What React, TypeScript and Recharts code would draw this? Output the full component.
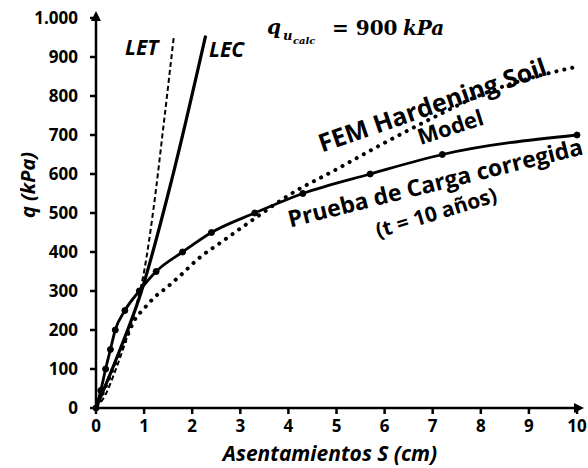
import React from 'react';
import { LineChart, Line, XAxis, YAxis, Customized } from 'recharts';

// Prueba de carga corregida (t = 10 años)
const pruebaS = [0, 0.1, 0.2, 0.3, 0.4, 0.6, 0.9, 1.25, 1.8, 2.4, 3.3, 4.3, 5.7, 7.2, 10];
const pruebaQ = [0, 45, 100, 150, 200, 250, 300, 350, 400, 450, 500, 550, 600, 650, 700];

// FEM Hardening Soil Model
const femS = [0, 0.2, 0.4, 0.6, 0.8, 1.0, 1.2, 1.5, 1.8, 2.1, 2.6, 3.3, 4.0, 5.0, 6.0, 7.0, 8.0, 9.0, 10];
const femQ = [0, 55, 115, 170, 225, 255, 282, 312, 345, 380, 425, 486, 545, 612, 680, 744, 803, 845, 875];

// LET (curva discontinua)
const letS = [0, 0.2, 0.4, 0.6, 0.8, 1.0, 1.2, 1.4, 1.62];
const letQ = [0, 35, 95, 165, 245, 350, 515, 720, 955];

// LEC
const lecS = [0, 0.5, 0.92, 1.57, 2.28];
const lecQ = [0, 150, 290, 583, 955];

const xTicks = [0, 1, 2, 3, 4, 5, 6, 7, 8, 9, 10];
const yTicks = [0, 100, 200, 300, 400, 500, 600, 700, 800, 900, 1000];

const zip = (s: number[], q: number[]) => s.map((v, i) => ({ s: v, q: q[i] }));

const FONT = '"Open Sans", sans-serif';

const fmtY = (v: number) => (v >= 1000 ? v.toLocaleString('de-DE') : String(v));

const Notes = () => (
  <g fontFamily={FONT} fontWeight="bold" fill="#000">
    <defs>
      <marker
        id="axArrow"
        viewBox="0 0 10 10"
        refX="3"
        refY="5"
        markerWidth="4"
        markerHeight="4"
        orient="auto-start-reverse"
      >
        <path d="M0,0 L10,5 L0,10 z" fill="#000" />
      </marker>
    </defs>
    <text x={27} y={185} transform="rotate(-90 27 185)" textAnchor="middle" dominantBaseline="central" fontStyle="italic" fontSize={20}>
      q (kPa)
    </text>
    <text x={330} y={453} textAnchor="middle" dominantBaseline="central" fontStyle="italic" fontSize={21}>
      Asentamientos S (cm)
    </text>
    <text x={125} y={55} fontStyle="italic" fontSize={21}>LET</text>
    <text x={209} y={57} fontStyle="italic" fontSize={21}>LEC</text>
    <g fontFamily='"DejaVu Serif", serif' fontStyle="italic">
      <text x={267} y={34} fontSize={20}>q</text>
      <text x={283} y={40} fontSize={13}>u</text>
      <text x={293} y={44} fontSize={10}>calc</text>
      <text x={332} y={35} fontSize={20} fontStyle="normal">= 900</text>
      <text x={403} y={35} fontSize={20}>kPa</text>
    </g>
    <text x={432} y={104} transform="rotate(-19 432 104)" textAnchor="middle" dominantBaseline="central" fontSize={25}>
      FEM Hardening Soil
    </text>
    <text x={450} y={126} transform="rotate(-18 450 126)" textAnchor="middle" dominantBaseline="central" fontSize={22}>
      Model
    </text>
    <text x={435} y={182} transform="rotate(-14 435 182)" textAnchor="middle" dominantBaseline="central" fontSize={23}>
      Prueba de Carga corregida
    </text>
    <text x={436} y={212} transform="rotate(-17 436 212)" textAnchor="middle" dominantBaseline="central" fontSize={21}>
      (t = 10 años)
    </text>
  </g>
);

const axisStyle = { stroke: '#000', strokeWidth: 2.5, markerEnd: 'url(#axArrow)' };
const tickStyle = { fill: '#000', fontFamily: FONT, fontWeight: 'bold', fontSize: 17 };

export default function App() {
  return (
    <div style={{ position: 'absolute', left: 0, top: 0, width: 588, height: 468, background: '#fff' }}>
      <LineChart width={588} height={468} margin={{ top: 18, right: 11, bottom: 30, left: 26 }}>
        <Customized component={Notes} />
        <XAxis
          type="number"
          dataKey="s"
          domain={[0, 10]}
          ticks={xTicks}
          interval={0}
          height={30}
          tickSize={6}
          tickMargin={6}
          axisLine={axisStyle}
          tickLine={{ stroke: '#000', strokeWidth: 2.5 }}
          tick={tickStyle}
          allowDuplicatedCategory={false}
        />
        <YAxis
          type="number"
          dataKey="q"
          domain={[0, 1000]}
          ticks={yTicks}
          interval={0}
          width={70}
          tickSize={6}
          tickMargin={12}
          tickFormatter={fmtY}
          axisLine={{ stroke: '#000', strokeWidth: 2.5, markerStart: 'url(#axArrow)' }}
          tickLine={{ stroke: '#000', strokeWidth: 2.5 }}
          tick={tickStyle}
        />
        <Line
          data={zip(letS, letQ)}
          dataKey="q"
          type="monotone"
          stroke="#000"
          strokeWidth={2}
          strokeDasharray="5 3"
          dot={false}
          isAnimationActive={false}
        />
        <Line
          data={zip(lecS, lecQ)}
          dataKey="q"
          type="monotone"
          stroke="#000"
          strokeWidth={3.2}
          dot={false}
          isAnimationActive={false}
        />
        <Line
          data={zip(femS, femQ)}
          dataKey="q"
          type="monotone"
          stroke="#000"
          strokeWidth={4}
          strokeDasharray="0.1 8"
          strokeLinecap="round"
          dot={false}
          isAnimationActive={false}
        />
        <Line
          data={zip(pruebaS, pruebaQ)}
          dataKey="q"
          type="monotone"
          stroke="#000"
          strokeWidth={2.8}
          dot={{ r: 3, fill: '#000', stroke: '#000', strokeWidth: 1 }}
          isAnimationActive={false}
        />
      </LineChart>
    </div>
  );
}
